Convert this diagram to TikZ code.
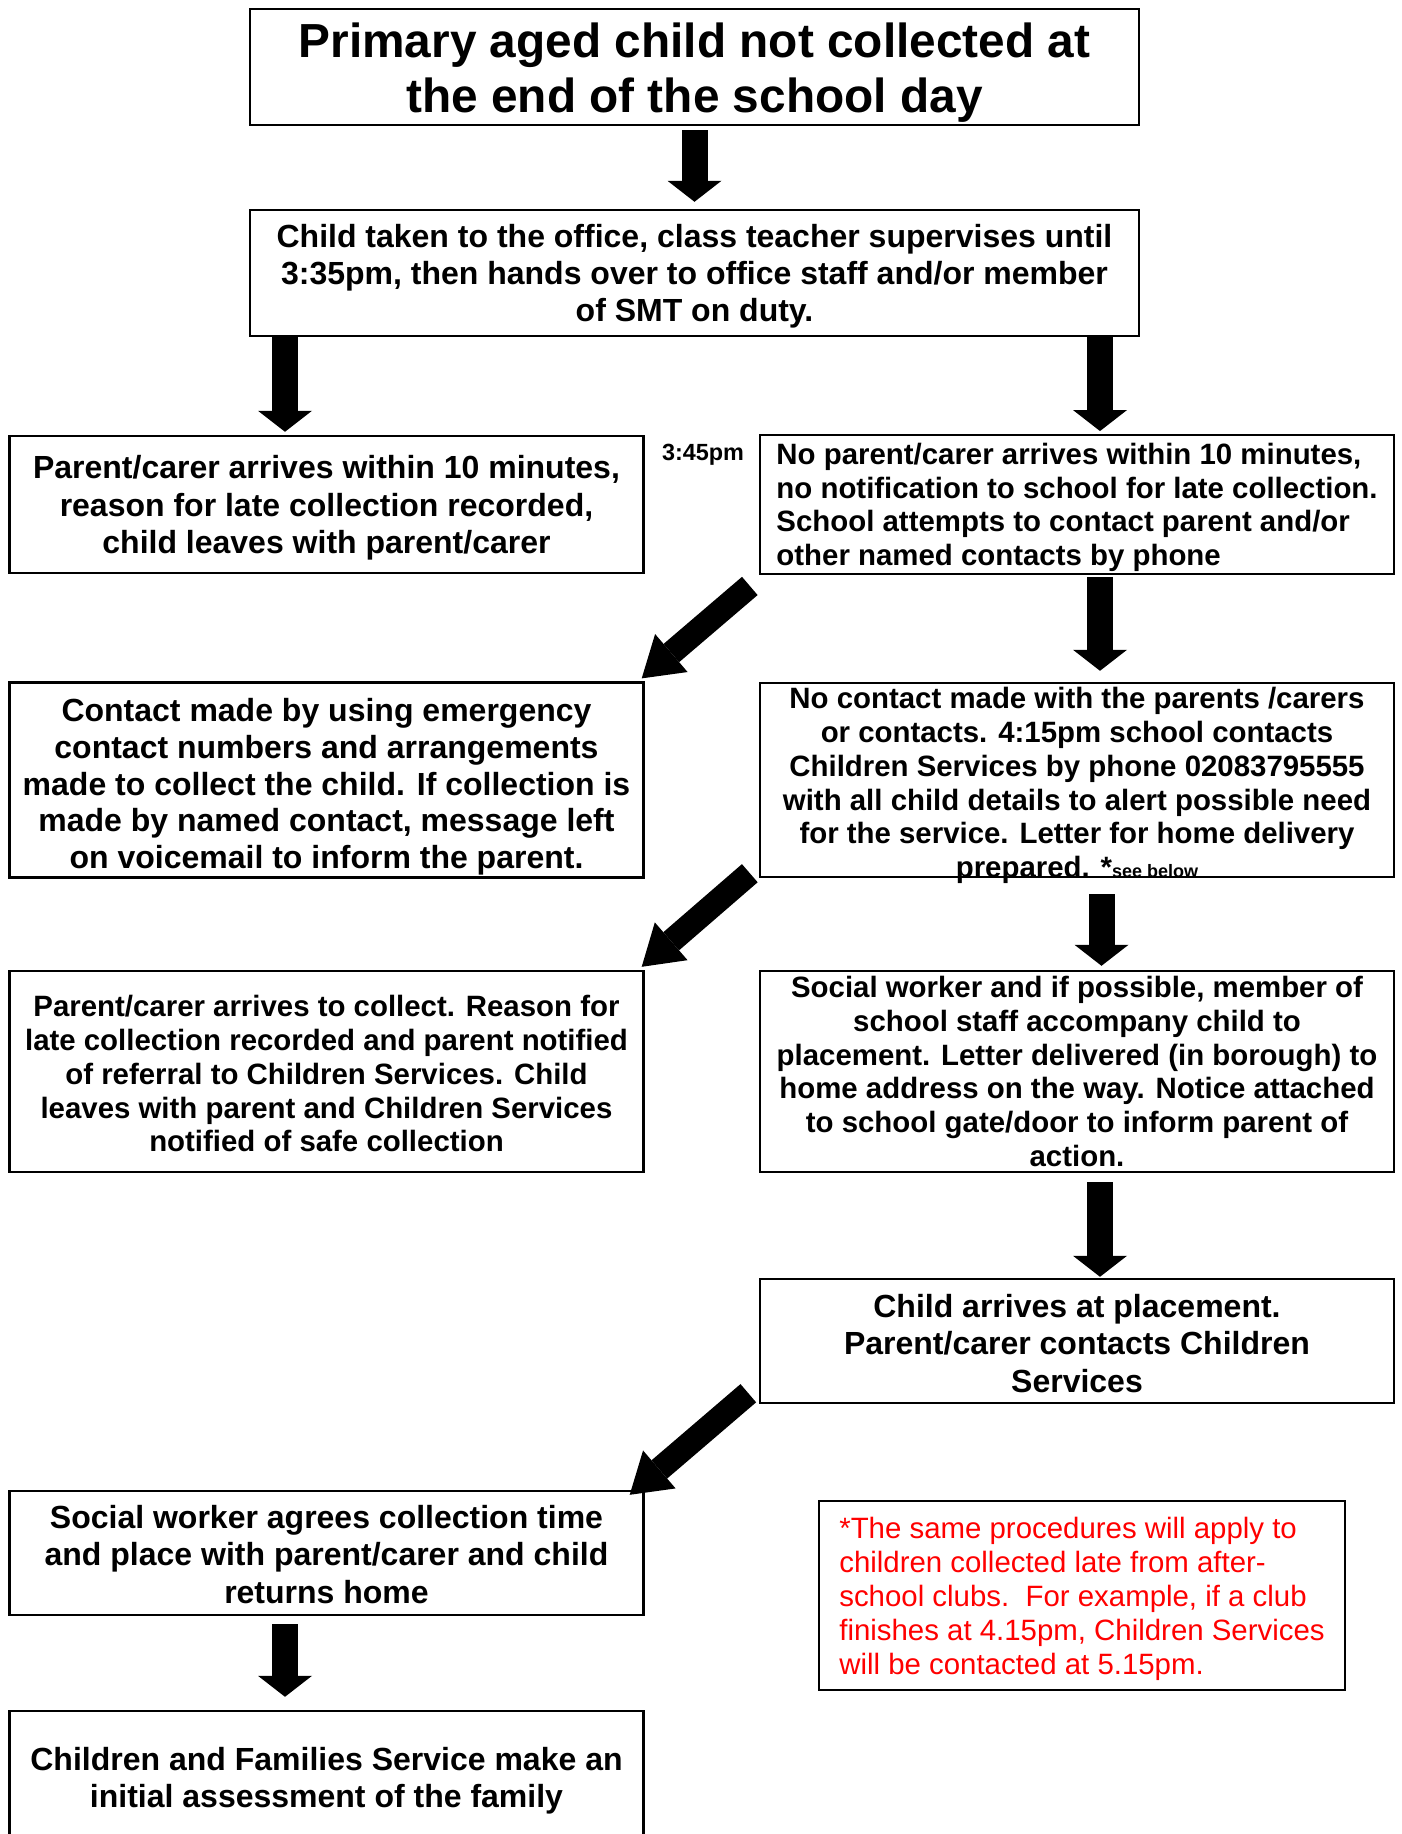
\documentclass[tikz,border=0pt]{standalone}
\usepackage{fontspec}
\setmainfont{Liberation Sans}
\usetikzlibrary{arrows.meta}
\newcommand{\padtop}[1]{\rule{0pt}{#1}}

\begin{document}
\begin{tikzpicture}[x=0.5pt,y=-0.5pt,
  box/.style={draw,line width=1.2pt,inner sep=1pt,align=center},
  wide/.style={box,minimum width=317pt},
  big/.style={font=\bfseries\fontsize{16pt}{18.6pt}\selectfont},
  small/.style={font=\bfseries\fontsize{14.7pt}{16.9pt}\selectfont},
  down/.style={line width=13pt,-{Triangle[length=10.5pt,width=27pt,line width=0pt]}},
  slant/.style={line width=12pt,-{Triangle[length=19.5pt,width=25pt,line width=0pt]}}]
  \useasboundingbox (0,0) rectangle (1401,1834);
  \node[box,minimum width=444.5pt,minimum height=58pt,font=\bfseries\fontsize{23.9pt}{27.5pt}\selectfont] (start) at (694.5,67) {\padtop{23pt}Primary aged child not collected at\\the end of the school day};
  \node[box,big,minimum width=444.5pt,minimum height=63pt] (office) at (694.5,273) {\padtop{15pt}Child taken to the office, class teacher supervises until\\3:35pm, then hands over to office staff and/or member\\of SMT on duty.};
  \node[wide,big,minimum height=68.5pt] (collected) at (326.5,504.5) {\padtop{15pt}Parent/carer arrives within 10 minutes,\\reason for late collection recorded,\\child leaves with parent/carer};
  \node[wide,small,minimum height=68.5pt,align=left] (noshow) at (1077,504.5) {\padtop{13.5pt}No parent/carer arrives within 10 minutes,\\no notification to school for late collection.\\School attempts to contact parent and/or\\other named contacts by phone};
  \node[font=\bfseries\fontsize{11.7pt}{14pt}\selectfont] (time) at (703,454.5) {3:45pm};
  \node[wide,big,minimum height=97pt,font=\bfseries\fontsize{16pt}{18.4pt}\selectfont] (emergency) at (326.5,780) {\padtop{18.5pt}Contact made by using emergency\\contact numbers and arrangements\\made to collect the child. If collection is\\made by named contact, message left\\on voicemail to inform the parent.};
  \node[wide,minimum height=97pt,label={[small,align=center,yshift=-2.8pt]center:{No contact made with the parents /carers\\or contacts. 4:15pm school contacts\\Children Services by phone 02083795555\\with all child details to alert possible need\\for the service. Letter for home delivery\\prepared. *{\fontsize{9pt}{9pt}\selectfont see below}}}] (referral) at (1077,780) {};
  \node[wide,small,minimum height=100.5pt] (latepickup) at (326.5,1071.5) {\padtop{13pt}Parent/carer arrives to collect. Reason for\\late collection recorded and parent notified\\of referral to Children Services. Child\\leaves with parent and Children Services\\notified of safe collection};
  \node[wide,small,minimum height=100.5pt] (escort) at (1077,1071.5) {Social worker and if possible, member of\\school staff accompany child to\\placement. Letter delivered (in borough) to\\home address on the way. Notice attached\\to school gate/door to inform parent of\\action.};
  \node[wide,big,minimum height=62pt] (placement) at (1077,1341) {\padtop{14pt}Child arrives at placement.\\Parent/carer contacts Children\\Services};
  \node[wide,big,minimum height=62pt] (agree) at (326.5,1553) {\padtop{13pt}Social worker agrees collection time\\and place with parent/carer and child\\returns home};
  \node[wide,big,minimum height=69.5pt] (assess) at (326.5,1780.5) {Children and Families Service make an\\initial assessment of the family};
  \node[box,align=left,minimum width=263pt,minimum height=94.5pt,text=red,font=\fontsize{14.7pt}{16.9pt}\selectfont] (note) at (1082,1595.5) {\padtop{14pt}*The same procedures will apply to\\children collected late from after-\\school clubs.\ \ For example, if a club\\finishes at 4.15pm, Children Services\\will be contacted at 5.15pm.};
  \draw[down] ([yshift=-2pt]start.south) -- ([yshift=3.5pt]office.north);
  \draw[down] ([xshift=-20.75pt]collected.north |- office.south) -- ([xshift=-20.75pt,yshift=1.5pt]collected.north);
  \draw[down] ([xshift=11.5pt]noshow.north |- office.south) -- ([xshift=11.5pt,yshift=1.5pt]noshow.north);
  \draw[down] ([xshift=11.5pt,yshift=-1pt]noshow.south) -- ([xshift=11.5pt,yshift=5.5pt]referral.north);
  \draw[down] ([xshift=12.25pt,yshift=-8pt]referral.south) -- ([xshift=12.25pt,yshift=2pt]escort.north);
  \draw[down] ([xshift=11.5pt,yshift=-4.5pt]escort.south) -- ([xshift=11.5pt,yshift=0.5pt]placement.north);
  \draw[down] ([xshift=-20.75pt,yshift=-4pt]agree.south) -- ([xshift=-20.75pt,yshift=6.5pt]assess.north);
  \draw[slant] ([shift={(-9,11)}]noshow.south west) -- ([shift={(-3,-3)}]emergency.north east);
  \draw[slant] ([shift={(-9,-5)}]referral.south west) -- ([shift={(-3,-3)}]latepickup.north east);
  \draw[slant] ([shift={(-10.5,-11)}]placement.south west) -- ([shift={(-15,5)}]agree.north east);
\end{tikzpicture}
\end{document}
